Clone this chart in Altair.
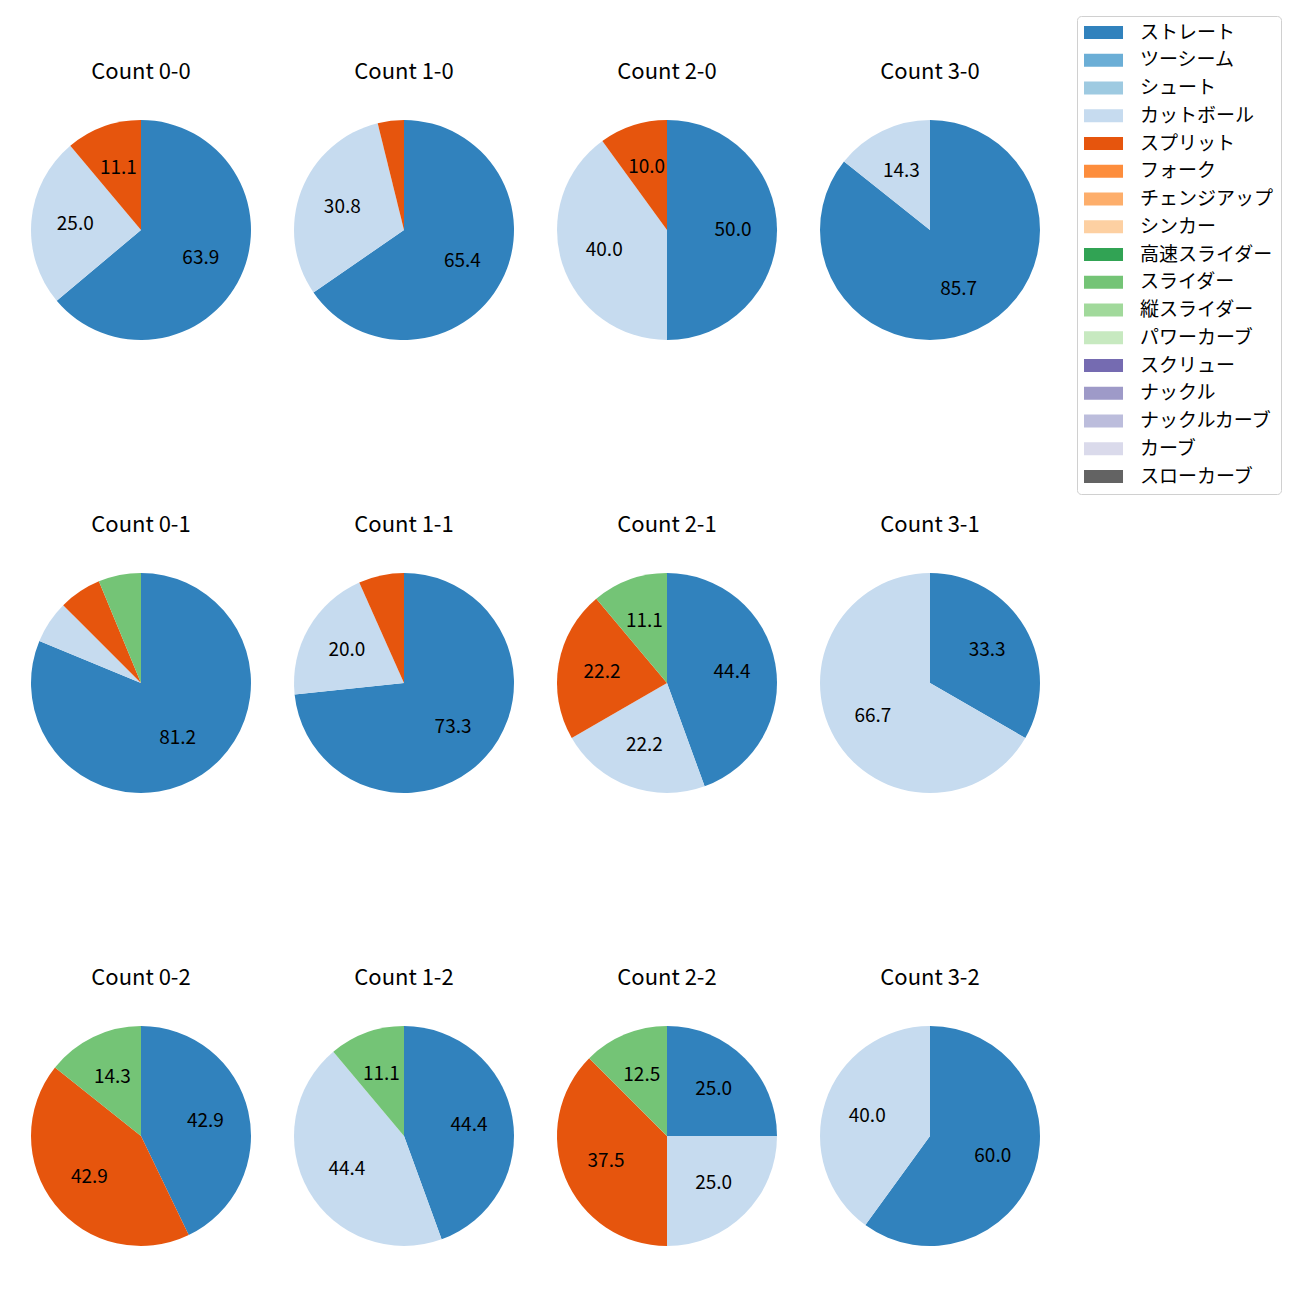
import altair as alt
import pandas as pd

# --- data ---
counts = ["0-0", "1-0", "2-0", "3-0", "0-1", "1-1", "2-1", "3-1", "0-2", "1-2", "2-2", "3-2"]
pitch_types = ["ストレート", "ツーシーム", "シュート", "カットボール", "スプリット", "フォーク",
               "チェンジアップ", "シンカー", "高速スライダー", "スライダー", "縦スライダー",
               "パワーカーブ", "スクリュー", "ナックル", "ナックルカーブ", "カーブ", "スローカーブ"]
colors = ["#3182bd", "#6baed6", "#9ecae1", "#c6dbef", "#e6550d", "#fd8d3c", "#fdae6b",
          "#fdd0a2", "#31a354", "#74c476", "#a1d99b", "#c7e9c0", "#756bb1", "#9e9ac8",
          "#bcbddc", "#dadaeb", "#636363"]

straight = [23, 17, 5, 6, 13, 11, 4, 1, 3, 4, 2, 3]
cutter = [9, 8, 4, 1, 1, 3, 2, 2, 0, 4, 2, 2]
split = [4, 1, 1, 0, 1, 1, 2, 0, 3, 0, 3, 0]
slider = [0, 0, 0, 0, 1, 0, 1, 0, 1, 1, 1, 0]

series = {"ストレート": straight, "カットボール": cutter, "スプリット": split, "スライダー": slider}

rows = []
for i, c in enumerate(counts):
    total = sum(series[p][i] for p in series)
    for p, vals in series.items():
        n = vals[i]
        if n <= 0:
            continue
        pct = 100.0 * n / total
        rows.append({"count": c, "pitch": p, "idx": pitch_types.index(p), "n": n,
                     "label": f"{pct:.1f}" if pct >= 10 else ""})
df = pd.DataFrame(rows)

FONT = "Noto Sans CJK JP"
R = 110

color_enc = alt.Color("pitch:N", scale=alt.Scale(domain=pitch_types, range=colors),
                      legend=alt.Legend(title=None, orient="none", legendX=1046, legendY=-104,
                                        symbolType="M-1.46,-1H4.54V1H-1.46Z", symbolSize=169,
                                        symbolStrokeWidth=0, labelOffset=37,
                                        labelFontSize=19, labelFont=FONT, labelColor="#000",
                                        rowPadding=7.75, padding=7, strokeColor="#d0d0d0",
                                        fillColor="white", cornerRadius=4, labelLimit=300))

charts = []
for c in counts:
    base = alt.Chart(df).transform_filter(alt.datum["count"] == c)
    arc = base.mark_arc(outerRadius=R).encode(
        theta=alt.Theta("n:Q", stack=True),
        color=color_enc,
        order=alt.Order("idx:Q", sort="ascending"),
    )
    txt = base.mark_text(radius=R * 0.6, fontSize=19, font=FONT, color="#000").encode(
        theta=alt.Theta("n:Q", stack=True),
        detail="pitch:N",
        order=alt.Order("idx:Q", sort="ascending"),
        text="label:N",
    )
    ch = alt.layer(arc, txt).properties(
        width=2 * R, height=2 * R,
        title=alt.TitleParams(f"Count {c}", fontSize=22, font=FONT, fontWeight="normal",
                              color="#000", offset=36),
    )
    charts.append(ch)

chart = alt.concat(*charts, columns=4, spacing={"row": 174, "column": 43})
chart = chart.properties(padding={"left": 23, "top": 7, "right": 5, "bottom": 5}).configure_view(stroke=None)

chart.save("out.html", embed_options={"renderer": "svg", "actions": False})
